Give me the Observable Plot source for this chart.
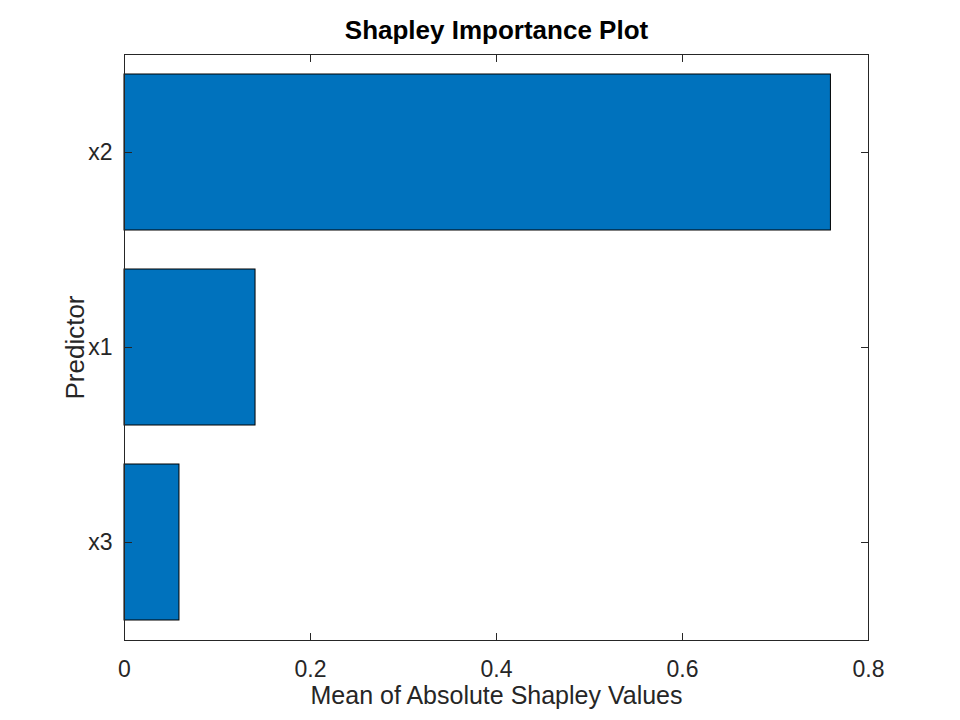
<!DOCTYPE html>
<html>
<head>
<meta charset="utf-8">
<script src="https://cdn.jsdelivr.net/npm/d3@7"></script>
<script src="https://cdn.jsdelivr.net/npm/@observablehq/plot@0.6"></script>
<style>
  html, body { margin: 0; padding: 0; background: #ffffff; }
  #chart { width: 960px; height: 720px; }
</style>
</head>
<body>
<div id="chart"></div>
<script>
const predictors = ["x2", "x1", "x3"];
const meanAbsShapley = [0.7596, 0.1409, 0.0591];
const xTicks = [0, 0.2, 0.4, 0.6, 0.8];
const titleText = "Shapley Importance Plot";
const xLabelText = "Mean of Absolute Shapley Values";
const yLabelText = "Predictor";

const rows = predictors.map((p, i) => ({predictor: p, value: meanAbsShapley[i]}));

const axisColor = "#262626";
const font = "'Liberation Sans', Arial, Helvetica, sans-serif";

const chart = Plot.plot({
  width: 960,
  height: 720,
  marginLeft: 124,
  marginRight: 92,
  marginTop: 54,
  marginBottom: 80,
  style: {fontFamily: font, background: "#ffffff", overflow: "visible"},
  x: {domain: [0, 0.8]},
  y: {domain: predictors, paddingInner: 0.2, paddingOuter: 0.1},
  marks: [
    Plot.barX(rows, {x: "value", y: "predictor", fill: "#0072BD", stroke: "#000000", strokeWidth: 1}),
    Plot.frame({stroke: axisColor, strokeWidth: 1}),
    // inward ticks
    Plot.vector(xTicks, {x: d => d, frameAnchor: "bottom", length: 7, rotate: 0, r: 0, anchor: "start", stroke: axisColor, strokeWidth: 1}),
    Plot.vector(xTicks, {x: d => d, frameAnchor: "top", length: 7, rotate: 180, r: 0, anchor: "start", stroke: axisColor, strokeWidth: 1}),
    Plot.vector(predictors, {y: d => d, frameAnchor: "left", length: 7, rotate: 90, r: 0, anchor: "start", stroke: axisColor, strokeWidth: 1}),
    Plot.vector(predictors, {y: d => d, frameAnchor: "right", length: 7, rotate: -90, r: 0, anchor: "start", stroke: axisColor, strokeWidth: 1}),
    // tick labels
    Plot.axisX({ticks: xTicks, tickSize: 0, tickPadding: 20, tickFormat: d => String(d), fontSize: 23, color: axisColor, label: null}),
    Plot.axisY({tickSize: 0, tickPadding: 12, fontSize: 23, color: axisColor, label: null}),
    // axis labels and title
    Plot.text([xLabelText], {text: d => d, frameAnchor: "bottom", dy: 55, fontSize: 25, fill: axisColor, lineAnchor: "middle", textAnchor: "middle"}),
    Plot.text([yLabelText], {text: d => d, frameAnchor: "left", dx: -49, rotate: -90, fontSize: 26, fill: axisColor, lineAnchor: "middle", textAnchor: "middle"}),
    Plot.text([titleText], {text: d => d, frameAnchor: "top", dy: -24, fontSize: 26, fontWeight: "bold", fill: "#000000", lineAnchor: "middle", textAnchor: "middle"})
  ]
});

document.getElementById("chart").appendChild(chart);
</script>
</body>
</html>
